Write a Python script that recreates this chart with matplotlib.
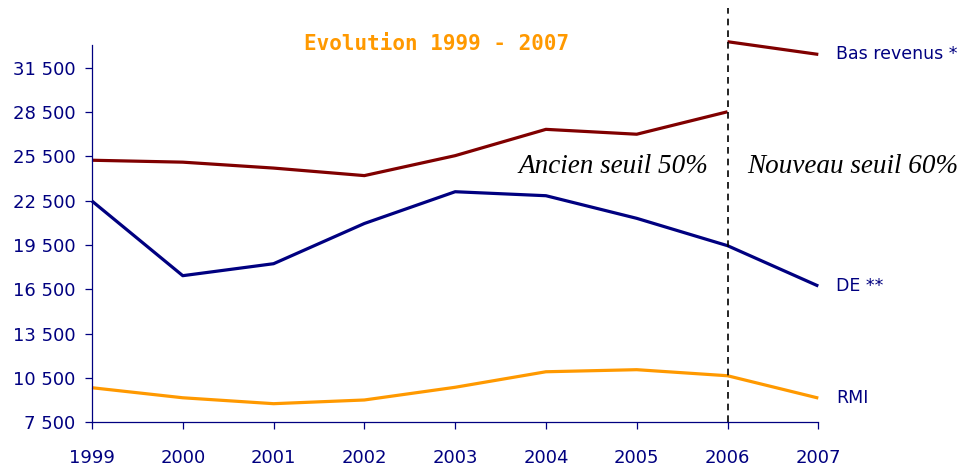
import numpy as np
import matplotlib.pyplot as plt
from matplotlib.ticker import FuncFormatter

# data
years = [1999, 2000, 2001, 2002, 2003, 2004, 2005, 2006, 2007]
bas_revenus_old = [25230, 25100, 24700, 24190, 25540, 27320, 26990, 28510]  # 1999-2006, seuil 50%
bas_revenus_new = [33250, 32390]  # 2006-2007, seuil 60%
de = [22470, 17420, 18230, 20950, 23100, 22830, 21300, 19450, 16720]
rmi = [9840, 9160, 8760, 9010, 9870, 10920, 11060, 10650, 9140]
yticks = [7500, 10500, 13500, 16500, 19500, 22500, 25500, 28500, 31500]

navy = '#000080'
red = '#800000'
orange = '#FF9900'

fig = plt.figure(figsize=(9.6, 4.67), dpi=100)
ax = fig.add_axes([0.0958, 0.0957, 0.7566, 0.8071])

ax.plot(years[:8], bas_revenus_old, color=red, lw=2.3, solid_capstyle='butt', clip_on=False)
ax.plot(years[7:], bas_revenus_new, color=red, lw=2.3, solid_capstyle='butt', clip_on=False)
ax.plot(years, de, color=navy, lw=2.3, solid_capstyle='butt', clip_on=False)
ax.plot(years, rmi, color=orange, lw=2.3, solid_capstyle='butt', clip_on=False)

ax.axvline(2006, ymin=0, ymax=1.1, color='black', lw=1.2, ls=(0, (4, 3)), clip_on=False)

ax.set_xlim(1999, 2007)
ax.set_ylim(7500, 33000)
ax.set_xticks(years)
ax.set_yticks(yticks)
ax.yaxis.set_major_formatter(FuncFormatter(lambda v, p: f'{int(v):,}'.replace(',', ' ')))

for s in ['top', 'right']:
    ax.spines[s].set_visible(False)
for s in ['left', 'bottom']:
    ax.spines[s].set_color(navy)
    ax.spines[s].set_linewidth(0.9)
ax.tick_params(axis='both', colors=navy, labelcolor=navy, labelsize=13,
               length=5, width=0.9, direction='out')
ax.tick_params(axis='x', pad=14)
ax.tick_params(axis='y', pad=7)

# series labels at right
lbl = dict(color=navy, fontsize=12.5, va='center', ha='left', clip_on=False)
ax.text(2007.2, bas_revenus_new[-1], 'Bas revenus *', **lbl)
ax.text(2007.2, de[-1], 'DE **', **lbl)
ax.text(2007.2, rmi[-1], 'RMI', **lbl)

ax.text(2005.79, 24800, 'Ancien seuil 50%', family='Liberation Serif', style='italic',
        fontsize=19.5, ha='right', va='center')
ax.text(2006.215, 24800, 'Nouveau seuil 60%', family='Liberation Serif', style='italic',
        fontsize=19.5, ha='left', va='center')

fig.text(0.455, 1 - 44 / 467, 'Evolution 1999 - 2007', family='DejaVu Sans Mono',
         weight='bold', color=orange, fontsize=15, ha='center', va='center')

fig.savefig('out.png', dpi=100)
